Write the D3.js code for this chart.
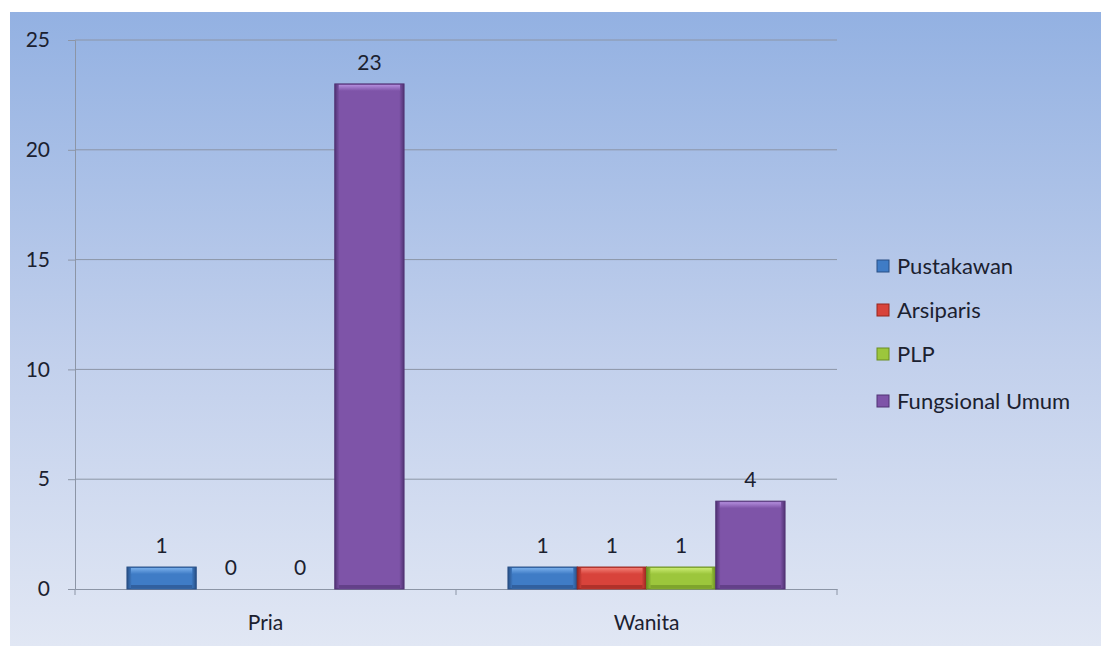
<!DOCTYPE html>
<html><head><meta charset="utf-8">
<script src="https://cdn.jsdelivr.net/npm/d3@7"></script>
<style>body{margin:0;background:#fff}svg{display:block}</style>
</head><body><div id="chart"></div>
<script>
const categories = ["Pria", "Wanita"];
const seriesNames = ["Pustakawan", "Arsiparis", "PLP", "Fungsional Umum"];
const pustakawan = [1, 1];
const arsiparis = [0, 1];
const plp = [0, 1];
const fungsionalUmum = [23, 4];
const yTicks = [0, 5, 10, 15, 20, 25];

const seriesValues = [pustakawan, arsiparis, plp, fungsionalUmum];
const colors = [
  {base:"#3f7cc6", light:"#78aeea", dark:"#284f85"},
  {base:"#d8433b", light:"#f27d73", dark:"#96261f"},
  {base:"#9cc63c", light:"#c9ea70", dark:"#6a8d22"},
  {base:"#7e54a8", light:"#b28ddc", dark:"#513374"}
];
const W = 1101, H = 646;
const svg = d3.select("#chart").append("svg").attr("width", W).attr("height", H);
const defs = svg.append("defs");
const bg = defs.append("linearGradient").attr("id","bg").attr("x1",0).attr("y1",0).attr("x2",0).attr("y2",1);
bg.append("stop").attr("offset","0%").attr("stop-color","#93b1e2");
bg.append("stop").attr("offset","55%").attr("stop-color","#c2d0ec");
bg.append("stop").attr("offset","100%").attr("stop-color","#e1e7f4");
svg.append("rect").attr("x",10).attr("y",12).attr("width",W-10).attr("height",H-12).attr("fill","url(#bg)");

colors.forEach((c,i)=>{
  const g = defs.append("linearGradient").attr("id","bar"+i).attr("x1",0).attr("y1",0).attr("x2",1).attr("y2",0);
  g.append("stop").attr("offset","0%").attr("stop-color",c.dark);
  g.append("stop").attr("offset","7%").attr("stop-color",c.base);
  g.append("stop").attr("offset","93%").attr("stop-color",c.base);
  g.append("stop").attr("offset","100%").attr("stop-color",c.dark);
  const t = defs.append("linearGradient").attr("id","top"+i).attr("x1",0).attr("y1",0).attr("x2",0).attr("y2",1);
  t.append("stop").attr("offset","0%").attr("stop-color",c.light);
  t.append("stop").attr("offset","100%").attr("stop-color",c.base);
});

const plotLeft = 75, plotRight = 837, plotTop = 40, plotBottom = 589;
const x0 = d3.scaleBand().domain(categories).range([plotLeft, plotRight]).padding(0);
const x1 = d3.scaleBand().domain(seriesNames).range([0, x0.bandwidth()]).paddingInner(0).paddingOuter(0.75);
const y = d3.scaleLinear().domain([0, 25]).range([plotBottom, plotTop]);
const font = "Lato, 'Open Sans', sans-serif";
const fs = 21;
const textColor = "#1b2130";
const lineColor = "#8c95a6";

// gridlines
svg.append("g").selectAll("line").data(yTicks.filter(d=>d>0)).join("line")
  .attr("x1", plotLeft).attr("x2", plotRight).attr("y1", d=>y(d)).attr("y2", d=>y(d))
  .attr("stroke",lineColor).attr("stroke-width",1);

// y axis
const yAxis = svg.append("g").attr("transform",`translate(${plotLeft},0)`)
  .call(d3.axisLeft(y).tickValues(yTicks).tickSize(7).tickPadding(18));
yAxis.select(".domain").attr("stroke",lineColor);
yAxis.selectAll(".tick line").attr("stroke",lineColor);
yAxis.selectAll("text").attr("font-family",font).attr("font-size",fs).attr("fill",textColor);

// x axis
const xAxis = svg.append("g").attr("transform",`translate(0,${plotBottom})`)
  .call(d3.axisBottom(x0).tickSize(0).tickPadding(26));
xAxis.select(".domain").attr("stroke",lineColor);
xAxis.selectAll("text").attr("font-family",font).attr("font-size",fs).attr("fill",textColor);
svg.append("g").selectAll("line").data([plotLeft, x0("Wanita"), plotRight]).join("line")
  .attr("x1",d=>d).attr("x2",d=>d).attr("y1",plotBottom).attr("y2",plotBottom+6).attr("stroke",lineColor);

// bars
const data = [];
categories.forEach((c,ci)=>seriesNames.forEach((s,si)=>data.push({c, s, si, v: seriesValues[si][ci]})));
const bars = svg.append("g").selectAll("g").data(data).join("g");
const pos = bars.filter(d=>d.v>0);
pos.append("rect")
  .attr("x", d=>x0(d.c)+x1(d.s)).attr("width", x1.bandwidth())
  .attr("y", d=>y(d.v)).attr("height", d=>y(0)-y(d.v))
  .attr("fill", d=>`url(#bar${d.si})`).attr("stroke", d=>colors[d.si].dark).attr("stroke-width",1);
pos.append("rect")
  .attr("x", d=>x0(d.c)+x1(d.s)+4).attr("width", x1.bandwidth()-8)
  .attr("y", d=>y(d.v)+1).attr("height", 6)
  .attr("fill", d=>`url(#top${d.si})`);
pos.append("rect")
  .attr("x", d=>x0(d.c)+x1(d.s)+4).attr("width", x1.bandwidth()-8)
  .attr("y", d=>y(0)-4).attr("height", 3)
  .attr("fill", d=>colors[d.si].dark).attr("opacity",0.6);
bars.append("text")
  .attr("x", d=>x0(d.c)+x1(d.s)+x1.bandwidth()/2)
  .attr("y", d=>y(d.v)-14)
  .attr("text-anchor","middle")
  .attr("font-family",font).attr("font-size",fs).attr("fill",textColor)
  .text(d=>d.v);

// legend
const legendY = [266, 310, 354, 401];
const lg = svg.append("g").selectAll("g").data(seriesNames).join("g")
  .attr("transform",(d,i)=>`translate(877,${legendY[i]})`);
lg.append("rect").attr("x",0).attr("y",-6).attr("width",12).attr("height",12)
  .attr("fill",(d,i)=>colors[i].base).attr("stroke",(d,i)=>colors[i].dark);
lg.append("text").attr("x",20).attr("y",0).attr("dy","0.35em")
  .attr("font-family",font).attr("font-size",fs+1).attr("fill",textColor).text(d=>d);
</script></body></html>
